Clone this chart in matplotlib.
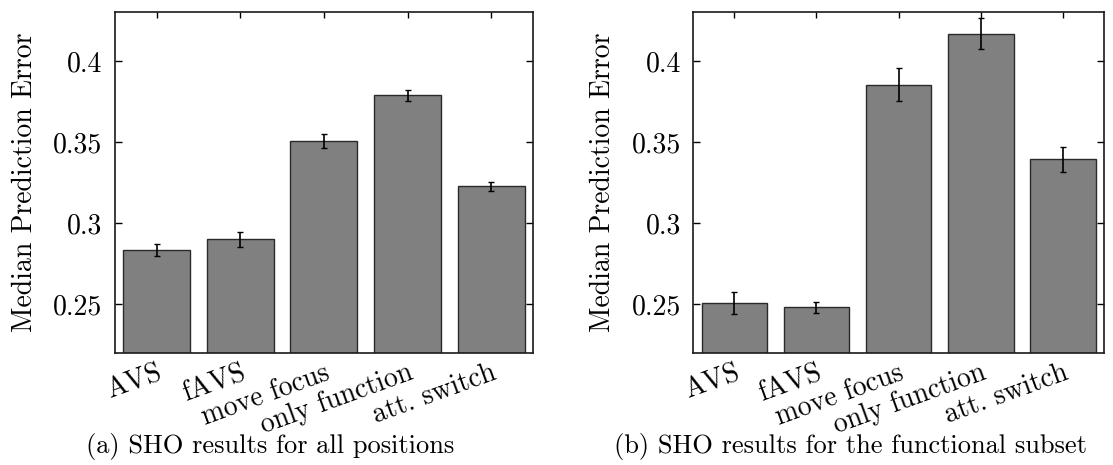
import matplotlib
matplotlib.use("Agg")
import matplotlib.pyplot as plt
import numpy as np

# LaTeX-like look
plt.rcParams['font.family'] = 'serif'
plt.rcParams['font.serif'] = ['cmr10']
plt.rcParams['mathtext.fontset'] = 'cm'
plt.rcParams['axes.formatter.use_mathtext'] = True

methods = ['AVS', 'fAVS', 'move focus', 'only function', 'att. switch']

# (a) all positions
all_median = [0.2835, 0.2899, 0.3506, 0.3788, 0.3226]
all_err = [0.0038, 0.0048, 0.0043, 0.0035, 0.0026]

# (b) functional subset
func_median = [0.2508, 0.2479, 0.3854, 0.4169, 0.3393]
func_err = [0.0069, 0.0036, 0.0101, 0.0095, 0.0078]

yticks = [0.25, 0.3, 0.35, 0.4]
ytick_labels = ['0.25', '0.3', '0.35', '0.4']

captions = ['(a) SHO results for all positions',
            '(b) SHO results for the functional subset']

fig = plt.figure(figsize=(11.13, 4.65), dpi=100)
ax1 = fig.add_axes([0.1031, 0.2415, 0.3758, 0.732])
ax2 = fig.add_axes([0.6229, 0.2415, 0.3690, 0.732])

TICK_FS = 20
LABEL_FS = 20
CAP_FS = 19


def draw_panel(ax, vals, errs):
    x = np.arange(len(methods))
    ax.bar(x, vals, width=0.8, color='#808080', edgecolor='#2a2a2a',
           linewidth=1.0, zorder=2)
    ax.errorbar(x, vals, yerr=errs, fmt='none', ecolor='black',
                elinewidth=1.2, capsize=2.2, capthick=1.0, zorder=3)
    ax.set_xlim(-0.5, 4.5)
    ax.set_ylim(0.22, 0.43)
    ax.set_yticks(yticks)
    ax.set_yticklabels(ytick_labels, fontsize=TICK_FS)
    ax.set_xticks(x)
    ax.set_xticklabels(methods, fontsize=TICK_FS, rotation=20, ha='right',
                       rotation_mode='anchor')
    ax.tick_params(axis='y', direction='in', length=5, width=1.0,
                   left=True, right=True, pad=9)
    ax.tick_params(axis='x', direction='in', length=4, width=1.0,
                   bottom=False, top=True, pad=5)
    ax.set_ylabel('Median Prediction Error', fontsize=LABEL_FS, labelpad=11)
    for s in ax.spines.values():
        s.set_linewidth(1.2)
        s.set_color('#1a1a1a')


draw_panel(ax1, all_median, all_err)
draw_panel(ax2, func_median, func_err)

fig.text(270 / 1113, 0.040, captions[0], fontsize=CAP_FS, ha='center', va='center')
fig.text(850 / 1113, 0.040, captions[1], fontsize=CAP_FS, ha='center', va='center')

fig.savefig('out.png', dpi=100)
